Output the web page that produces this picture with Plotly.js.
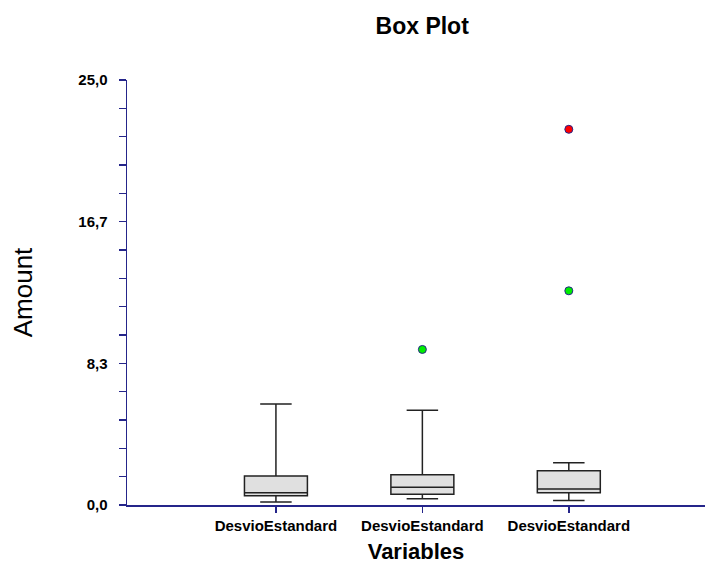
<!DOCTYPE html>
<html>
<head>
<meta charset="utf-8">
<script src="https://cdn.plot.ly/plotly-3.0.1.min.js"></script>
<style>html,body{margin:0;padding:0;background:#fff;}#chart{width:706px;height:566px;}</style>
</head>
<body>
<div id="chart"></div>
<script>
// ---- data ----
const categories = ['DesvioEstandard', 'DesvioEstandard', 'DesvioEstandard'];
const lowerWhisker = [0.18, 0.37, 0.27];
const q1 = [0.55, 0.63, 0.72];
const median = [0.72, 1.04, 0.94];
const q3 = [1.71, 1.78, 2.02];
const upperWhisker = [5.94, 5.57, 2.49];
// outliers: index of the box (0-based), value, kind
const outlierBox = [1, 2, 2];
const outlierValue = [9.15, 12.6, 22.1];
const outlierKind = ['near', 'near', 'far'];
const yTickValues = [0, 25 / 3, 50 / 3, 25];
const yTickLabels = ['0,0', '8,3', '16,7', '25,0'];

const navy = '#25258a';
const fontFam = 'Liberation Sans, Arial, sans-serif';
const traces = [];
categories.forEach(function (c, i) {
  traces.push({
    type: 'box',
    x: [i + 1],
    lowerfence: [lowerWhisker[i]],
    q1: [q1[i]],
    median: [median[i]],
    q3: [q3[i]],
    upperfence: [upperWhisker[i]],
    width: 0.43,
    whiskerwidth: 0.5,
    boxpoints: false,
    fillcolor: '#e0e0e0',
    line: { color: '#222222', width: 1.5 },
    hoverinfo: 'skip',
    showlegend: false
  });
});
const kindColor = { near: '#00ee00', far: '#ff0000' };
['near', 'far'].forEach(function (k) {
  const xs = [], ys = [];
  outlierValue.forEach(function (v, j) {
    if (outlierKind[j] === k) { xs.push(outlierBox[j] + 1); ys.push(v); }
  });
  traces.push({
    type: 'scatter', mode: 'markers', x: xs, y: ys,
    marker: { color: kindColor[k], size: 8, line: { color: navy, width: 1 } },
    showlegend: false, hoverinfo: 'skip'
  });
});

const layout = {
  width: 706, height: 566,
  margin: { l: 127, r: 1, t: 80, b: 61 },
  paper_bgcolor: '#ffffff', plot_bgcolor: '#ffffff',
  showlegend: false,
  title: {
    text: 'Box Plot', x: 0.598, xanchor: 'center', y: 0.955, yanchor: 'middle',
    font: { family: fontFam, size: 23, weight: 'bold', color: '#000' }
  },
  xaxis: {
    range: [-0.017, 3.93], automargin: false,
    tickmode: 'array', tickvals: [1, 2, 3], ticktext: categories,
    showgrid: false, zeroline: false,
    showline: true, linecolor: navy, linewidth: 1.5,
    ticks: 'outside', ticklen: 6, tickcolor: navy, tickwidth: 1.5,
    tickfont: { family: fontFam, size: 15, weight: 'bold', color: '#000' },
    title: { text: 'Variables', standoff: 11, font: { family: fontFam, size: 22, weight: 'bold', color: '#000' } }
  },
  yaxis: {
    range: [0, 25], automargin: false,
    tickmode: 'array', tickvals: yTickValues, ticktext: yTickLabels,
    showgrid: false, zeroline: false,
    showline: true, linecolor: navy, linewidth: 1.5,
    ticks: 'outside', ticklen: 7, tickcolor: navy, tickwidth: 1.5, ticklabelstandoff: 8,
    minor: { tick0: 0, dtick: 25 / 15, ticks: 'outside', ticklen: 7, tickcolor: navy, tickwidth: 1.5, showgrid: false },
    tickfont: { family: fontFam, size: 15, weight: 'bold', color: '#000' },
    title: { text: 'Amount', standoff: 38, font: { family: fontFam, size: 26, color: '#000' } }
  }
};
Plotly.newPlot('chart', traces, layout, { displayModeBar: false, staticPlot: true });
</script>
</body>
</html>
